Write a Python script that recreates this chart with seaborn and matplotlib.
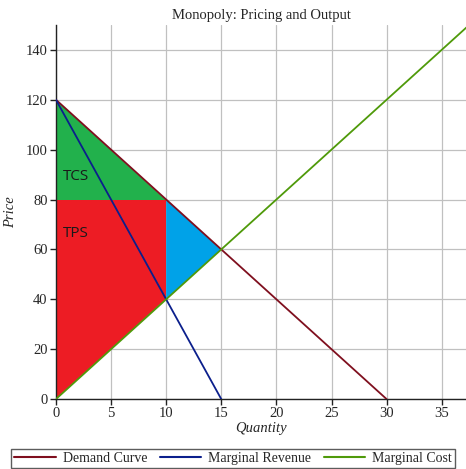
import matplotlib
matplotlib.use("Agg")
import matplotlib.pyplot as plt
import seaborn as sns
import pandas as pd

# curve end points (quantity, price)
demand_q = [0, 30]
demand_p = [120, 0]
mr_q = [0, 15]
mr_p = [120, 0]
mc_q = [0, 37.5]
mc_p = [0, 150]

# shaded areas
tcs_q = [0, 0, 10]
tcs_p = [120, 80, 80]
tps_q = [0, 0, 10, 10]
tps_p = [0, 80, 80, 40]
dwl_q = [10, 10, 15]
dwl_p = [80, 40, 60]

sns.set_style("white")
plt.rcParams['font.family'] = ['Liberation Serif', 'DejaVu Serif']

fig = plt.figure(figsize=(4.66, 4.69), dpi=100)
ax = fig.add_axes([0.120, 0.149, 0.880, 0.798])

ax.fill(tcs_q, tcs_p, color='#22B14C', lw=0, zorder=2)
ax.fill(tps_q, tps_p, color='#ED1C24', lw=0, zorder=2)
ax.fill(dwl_q, dwl_p, color='#00A2E8', lw=0, zorder=2)

lines = pd.DataFrame({
    'q': demand_q + mr_q + mc_q,
    'p': demand_p + mr_p + mc_p,
    'curve': ['Demand Curve'] * 2 + ['Marginal Revenue'] * 2 + ['Marginal Cost'] * 2,
})
palette = {'Demand Curve': '#7F0F1E', 'Marginal Revenue': '#0B1F8C', 'Marginal Cost': '#4F9A0A'}
sns.lineplot(data=lines, x='q', y='p', hue='curve', palette=palette, lw=1.3,
             ax=ax, zorder=3, legend=False)

ax.text(0.6, 88, 'TCS', fontsize=11, color='#1a1a1a', family=['Open Sans', 'DejaVu Sans'], zorder=4)
ax.text(0.6, 65, 'TPS', fontsize=11, color='#1a1a1a', family=['Open Sans', 'DejaVu Sans'], zorder=4)

ax.set_xlim(0, 37.2)
ax.set_ylim(0, 150)
ax.set_xticks(range(0, 40, 5))
ax.set_yticks(range(0, 141, 20))
ax.grid(True, color='#c0c0c0', lw=0.9, zorder=0)
ax.set_axisbelow(True)
for s in ['top', 'right']:
    ax.spines[s].set_visible(False)
for s in ['left', 'bottom']:
    ax.spines[s].set_color('#222222')
    ax.spines[s].set_linewidth(1.0)
ax.tick_params(axis='both', direction='out', length=4, width=1, color='#222222',
               labelsize=10.5, pad=2, bottom=True, left=True)

ax.set_xlabel('Quantity', style='italic', fontsize=10.5, labelpad=1)
ax.set_ylabel('Price', style='italic', fontsize=10.5, labelpad=6)
ax.set_title('Monopoly: Pricing and Output', fontsize=10.5, pad=4)

handles = [plt.Line2D([], [], color=palette[k], lw=1.5) for k in palette]
leg = fig.legend(handles, list(palette), loc='lower center', bbox_to_anchor=(0.5, 0.0),
                 ncol=3, frameon=True, fancybox=False, fontsize=10, handlelength=3.0,
                 columnspacing=0.9, handletextpad=0.5, borderpad=0.2, borderaxespad=0.1)
leg.get_frame().set_edgecolor('#333333')
leg.get_frame().set_linewidth(1.0)

fig.savefig('out.png', dpi=100)
